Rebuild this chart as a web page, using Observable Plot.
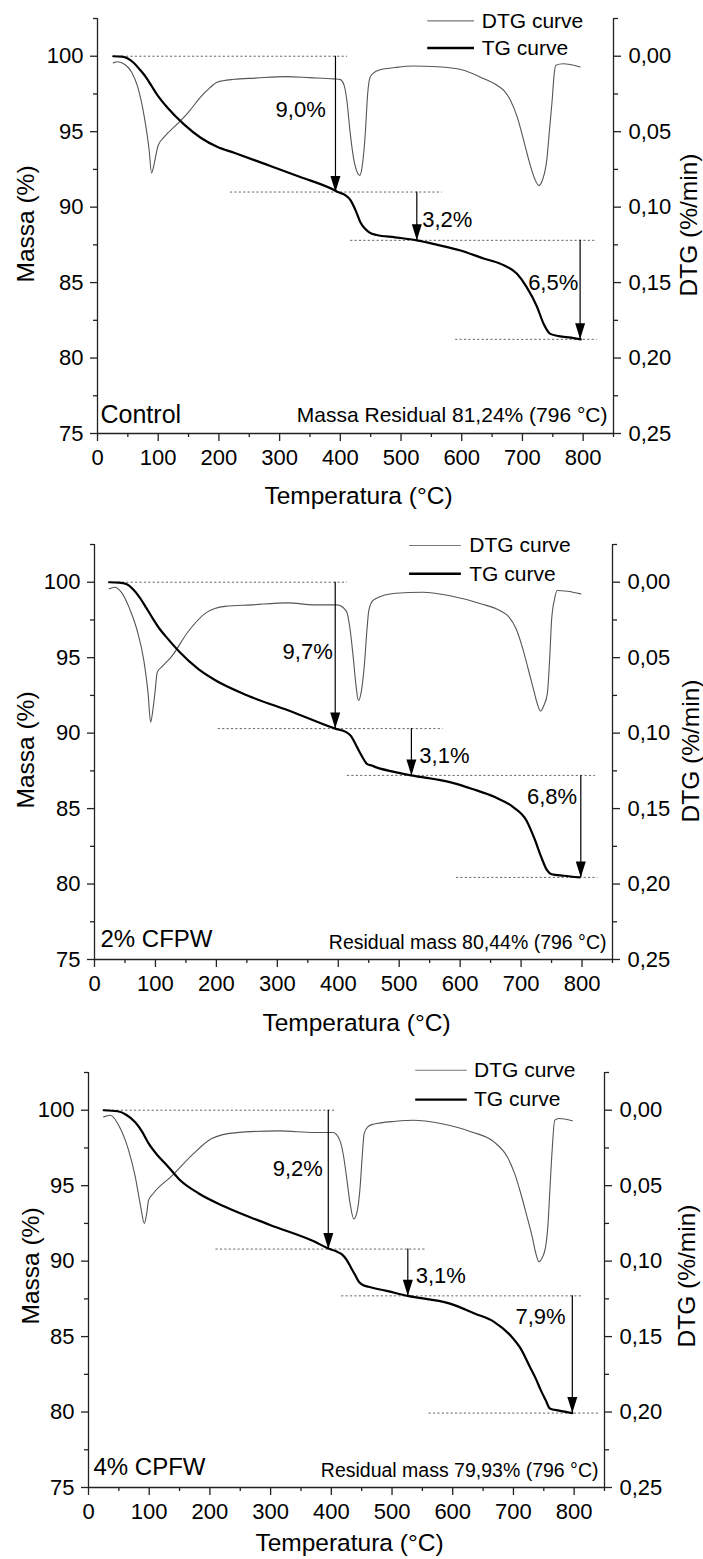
<!DOCTYPE html>
<html><head><meta charset="utf-8">
<script src="https://cdn.jsdelivr.net/npm/d3@7"></script>
<script src="https://cdn.jsdelivr.net/npm/@observablehq/plot@0.6"></script>
<style>
body{margin:0;background:#fff;}
#wrap{position:relative;width:703px;height:1559px;overflow:hidden;background:#fff;}
.panel{position:absolute;left:0;}
.panel svg{overflow:visible;}
</style></head><body><div id="wrap"></div>
<script>
// ---------- DATA ----------
const panelNames = ["Control", "2% CFPW", "4% CPFW"];
const residualTexts = ["Massa Residual 81,24% (796 °C)", "Residual mass 80,44% (796 °C)", "Residual mass 79,93% (796 °C)"];
const legendNames = ["DTG curve", "TG curve"];
const xTitle = "Temperatura (°C)";
const yTitle = "Massa (%)";
const y2Title = "DTG (%/min)";

const xMajorTicks = [0, 100, 200, 300, 400, 500, 600, 700, 800];
const xMinorTicks = [50, 150, 250, 350, 450, 550, 650, 750, 850];
const massTicks = [75, 80, 85, 90, 95, 100];
const massMinorTicks = [77.5, 82.5, 87.5, 92.5, 97.5, 102.5];
const dtgTicks = [0, 0.05, 0.10, 0.15, 0.20, 0.25];
const dtgMinorTicks = [-0.025, 0.025, 0.075, 0.125, 0.175, 0.225];

// Control
const controlTgT = [26,40,50,60,70,80,88,99,115,142,170,197,225,280,334,389,396,408,417,425,433,440,447,460,490,526,560,598,636,664,691,707,724,735,746,760,780,796];
const controlTgMass = [100,99.97,99.85,99.55,99.1,98.6,98.1,97.4,96.6,95.5,94.6,94.0,93.6,92.8,92.0,91.15,91.0,90.8,90.45,89.8,89.0,88.6,88.35,88.15,88.0,87.8,87.5,87.13,86.6,86.24,85.58,84.7,83.4,82.26,81.6,81.45,81.35,81.24];
const controlDtgT = [26,33,45,56,66,77,85,89,93,97,100,110,132,150,170,185,197,225,260,310,350,389,400,406,411,416,422,428,432,436,441,445,449,455,465,490,520,560,600,636,658,670,680,692,702,712,720,727,733,740,745,749,752,755,767,795];
const controlDtgRate = [0.0044,0.0037,0.0055,0.0104,0.020,0.040,0.062,0.0774,0.072,0.064,0.059,0.0535,0.0447,0.037,0.027,0.021,0.0172,0.0153,0.0145,0.0135,0.0142,0.015,0.0155,0.019,0.030,0.050,0.068,0.077,0.079,0.073,0.052,0.025,0.014,0.011,0.009,0.0075,0.0065,0.0070,0.0090,0.0148,0.0192,0.023,0.029,0.041,0.0557,0.071,0.081,0.0856,0.082,0.069,0.047,0.029,0.013,0.006,0.005,0.0071];
const controlStepT = [392, 526, 795];
const controlStepLevels = [100, 91.0, 87.8, 81.24];
const controlStepLabels = ["9,0%", "3,2%", "6,5%"];

// 2% CFPW
const cfpw2TgT = [24,40,52,64,74,85,96,107,118,140,170,199,251,325,395,413,421,428,437,447,455,465,490,520,583,620,657,687,709,722,733,742,750,770,796];
const cfpw2TgMass = [100,99.97,99.88,99.5,99.0,98.3,97.57,96.9,96.36,95.36,94.26,93.49,92.5,91.4,90.3,90.07,89.8,89.3,88.6,87.97,87.85,87.7,87.45,87.2,86.75,86.3,85.76,85.1,84.2,83.0,81.8,80.95,80.65,80.55,80.44];
const cfpw2DtgT = [24,33,44,59,70,81,88,92,96,99,103,110,125,155,184,214,258,317,361,398,413,419,424,429,433,438,443,447,450,455,461,494,539,583,635,665,680,692,702,712,721,727,732,737,743,747,750,755,759,776,798];
const cfpw2DtgRate = [0.0044,0.0033,0.0066,0.019,0.032,0.052,0.074,0.0927,0.084,0.074,0.0596,0.0563,0.050,0.032,0.020,0.016,0.015,0.0137,0.015,0.015,0.019,0.030,0.0475,0.068,0.0784,0.072,0.054,0.032,0.019,0.013,0.011,0.0073,0.0066,0.009,0.0144,0.0188,0.023,0.031,0.043,0.058,0.072,0.081,0.0854,0.082,0.074,0.050,0.0254,0.011,0.0055,0.006,0.0077];
const cfpw2StepT = [395, 520, 798];
const cfpw2StepLevels = [100, 90.3, 87.2, 80.44];
const cfpw2StepLabels = ["9,7%", "3,1%", "6,8%"];

// 4% CPFW
const cpfw4TgT = [25,48,62,77,88,99,114,129,151,181,225,299,373,395,408,417,425,432,439,446,453,461,491,526,594,638,668,697,712,727,737,745,753,760,775,797];
const cpfw4TgMass = [100,99.93,99.7,99.2,98.6,97.8,97.0,96.36,95.36,94.5,93.6,92.4,91.28,90.84,90.65,90.46,90.1,89.6,89.1,88.6,88.4,88.3,88.03,87.7,87.2,86.5,85.98,84.99,84.2,83.0,82.2,81.45,80.8,80.24,80.09,79.93];
const cpfw4DtgT = [25,36,51,66,77,86,92,96,99,107,136,173,203,240,314,373,403,414,420,425,431,437,442,447,451,454,460,469,506,535,580,631,668,690,702,712,722,731,737,742,747,753,757,760,764,768,775,797];
const cpfw4DtgRate = [0.0044,0.0033,0.011,0.0265,0.044,0.064,0.075,0.068,0.0596,0.055,0.044,0.0287,0.0188,0.015,0.0137,0.0148,0.0148,0.020,0.030,0.044,0.062,0.072,0.068,0.053,0.030,0.0155,0.011,0.0093,0.0073,0.0066,0.0088,0.0144,0.021,0.031,0.042,0.055,0.070,0.084,0.095,0.1004,0.098,0.0905,0.075,0.053,0.025,0.0066,0.0055,0.007];
const cpfw4StepT = [395, 526, 797];
const cpfw4StepLevels = [100, 90.8, 87.7, 79.93];
const cpfw4StepLabels = ["9,2%", "3,1%", "7,9%"];

// ---------- ASSEMBLY ----------
const panels = [
  {tgT: controlTgT, tgMass: controlTgMass, dtgT: controlDtgT, dtgRate: controlDtgRate, stepT: controlStepT, levels: controlStepLevels, labels: controlStepLabels},
  {tgT: cfpw2TgT, tgMass: cfpw2TgMass, dtgT: cfpw2DtgT, dtgRate: cfpw2DtgRate, stepT: cfpw2StepT, levels: cfpw2StepLevels, labels: cfpw2StepLabels},
  {tgT: cpfw4TgT, tgMass: cpfw4TgMass, dtgT: cpfw4DtgT, dtgRate: cpfw4DtgRate, stepT: cpfw4StepT, levels: cpfw4StepLevels, labels: cpfw4StepLabels}
];

// layout (pixel / placement settings, not data)
const layout = [
  {top: 0, ml: 97, mr: 90,
   guideX: [[26,412],[219,568],[417,823],[590,823]],
   labelPos: [[376,96.42,"end"],[535,89.12,"start"],[792,85.0,"end"]],
   legend: {x1: 544, x2: 621, tx: 633, yD: 102.34, yT: 100.55, size: 21},
   nameDx: 3, nameDy: -11, nameSize: 25, resDx: -6, resDy: -11.5, resSize: 21,
   xtDy: 70, ytDx: -64, ytDy: -2, y2tDx: 83, y2tDy: -1},
  {top: 526, ml: 94, mr: 91,
   guideX: [[24,415],[203,572],[415,822],[594,826]],
   labelPos: [[391,95.36,"end"],[533,88.52,"start"],[792,85.76,"end"]],
   legend: {x1: 517, x2: 602, tx: 615, yD: 102.43, yT: 100.56, size: 21},
   nameDx: 6, nameDy: -13, nameSize: 24, resDx: -6, resDy: -11, resSize: 19.5,
   xtDy: 71, ytDx: -61, ytDy: -2, y2tDx: 86, y2tDy: -1},
  {top: 1054, ml: 88, mr: 99,
   guideX: [[25,407],[210,557],[417,812],[561,841]],
   labelPos: [[386,96.14,"end"],[539,89.0,"start"],[786,86.3,"end"]],
   legend: {x1: 539, x2: 624, tx: 635, yD: 102.65, yT: 100.7, size: 21},
   nameDx: 5, nameDy: -13, nameSize: 24, resDx: -6, resDy: -11, resSize: 19.5,
   xtDy: 63, ytDx: -50, ytDy: -14, y2tDx: 90, y2tDy: -4}
];

const FONT = '"Liberation Sans", Arial, Helvetica, sans-serif';
const AXIS = "#222";
const DTG_COLOR = "#555";
const TICK_FS = 22;
const rateToMass = r => 100 - 100 * r;
const fmtComma = (v, d) => v.toFixed(d).replace(".", ",");

// downward filled arrowhead, tip at the anchor point
const arrowHead = {draw(ctx) { ctx.moveTo(0, 0); ctx.lineTo(-5, -16); ctx.lineTo(5, -16); ctx.closePath(); }};

const PLOT_H = 526, MT = 18, MB = 93;

panels.forEach((p, i) => {
  const L = layout[i];
  const tg = p.tgT.map((t, k) => ({t, m: p.tgMass[k]}));
  const dtg = p.dtgT.map((t, k) => ({t, r: p.dtgRate[k]}));
  const steps = p.stepT.map((t, k) => ({t, from: p.levels[k], to: p.levels[k + 1], label: p.labels[k],
    lx: L.labelPos[k][0], ly: L.labelPos[k][1], anchor: L.labelPos[k][2]}));
  const guides = L.guideX.map((g, k) => ({level: p.levels[k], x1: g[0], x2: g[1]}));
  const lg = L.legend;

  const chart = Plot.plot({
    width: 703, height: PLOT_H,
    marginTop: MT, marginBottom: MB, marginLeft: L.ml, marginRight: L.mr,
    x: {domain: [0, 850], axis: null},
    y: {domain: [75, 102.5], axis: null},
    style: {fontFamily: FONT, fontSize: "22px", color: "#000", background: "white", overflow: "visible"},
    marks: [
      // axis lines
      Plot.ruleX([0], {stroke: AXIS, strokeWidth: 1.3}),
      Plot.ruleX([850], {stroke: AXIS, strokeWidth: 1.3}),
      Plot.ruleY([75], {stroke: AXIS, strokeWidth: 1.3}),
      // x axis ticks + labels
      Plot.axisX(xMajorTicks, {anchor: "bottom", tickSize: 8, stroke: AXIS, strokeWidth: 1.3, tickFormat: () => "", label: null}),
      Plot.axisX(xMinorTicks, {anchor: "bottom", tickSize: 4, stroke: AXIS, strokeWidth: 1.3, tickFormat: () => "", label: null}),
      Plot.text(xMajorTicks, {x: d => d, frameAnchor: "bottom", text: d => `${d}`, lineAnchor: "top", textAnchor: "middle", dy: 16, fontSize: TICK_FS, fill: "#000"}),
      // left axis
      Plot.axisY(massTicks, {anchor: "left", tickSize: 7, stroke: AXIS, strokeWidth: 1.3, tickFormat: () => "", label: null}),
      Plot.axisY(massMinorTicks, {anchor: "left", tickSize: 4, stroke: AXIS, strokeWidth: 1.3, tickFormat: () => "", label: null}),
      Plot.text(massTicks, {y: d => d, frameAnchor: "left", text: d => `${d}`, textAnchor: "end", dx: -14, fontSize: TICK_FS, fill: "#000"}),
      // right axis (DTG)
      Plot.axisY(dtgTicks.map(rateToMass), {anchor: "right", tickSize: 7, stroke: AXIS, strokeWidth: 1.3, tickFormat: () => "", label: null}),
      Plot.axisY(dtgMinorTicks.map(rateToMass), {anchor: "right", tickSize: 4, stroke: AXIS, strokeWidth: 1.3, tickFormat: () => "", label: null}),
      Plot.text(dtgTicks, {y: d => rateToMass(d), frameAnchor: "right", text: d => fmtComma(d, 2), textAnchor: "start", dx: 15, fontSize: TICK_FS, fill: "#000"}),
      // dotted guide lines
      Plot.ruleY(guides, {y: "level", x1: "x1", x2: "x2", stroke: "#666", strokeWidth: 1, strokeDasharray: "2.2,2.2"}),
      // curves
      Plot.line(dtg, {x: "t", y: d => rateToMass(d.r), stroke: DTG_COLOR, strokeWidth: 1.1, curve: "monotone-x"}),
      Plot.line(tg, {x: "t", y: "m", stroke: "#000", strokeWidth: 2.2, curve: "monotone-x"}),
      // arrows
      Plot.ruleX(steps, {x: "t", y1: "from", y2: "to", stroke: "#000", strokeWidth: 1.2}),
      Plot.dot(steps, {x: "t", y: "to", symbol: arrowHead, fill: "#000", stroke: "none", r: 5}),
      Plot.text(steps, {filter: d => d.anchor === "end", x: "lx", y: "ly", text: "label", textAnchor: "end", fontSize: 22, fill: "#000"}),
      Plot.text(steps, {filter: d => d.anchor === "start", x: "lx", y: "ly", text: "label", textAnchor: "start", fontSize: 22, fill: "#000"}),
      // legend
      Plot.ruleY([lg.yD], {x1: lg.x1, x2: lg.x2, stroke: "#777", strokeWidth: 1.1}),
      Plot.ruleY([lg.yT], {x1: lg.x1, x2: lg.x2, stroke: "#000", strokeWidth: 2.4}),
      Plot.text([{n: legendNames[0], y: lg.yD}, {n: legendNames[1], y: lg.yT}], {x: lg.tx, y: "y", text: "n", textAnchor: "start", fontSize: lg.size, fill: "#000"}),
      // panel name and residual mass
      Plot.text([panelNames[i]], {frameAnchor: "bottom-left", text: d => d, textAnchor: "start", lineAnchor: "bottom", dx: L.nameDx, dy: L.nameDy, fontSize: L.nameSize, fill: "#000"}),
      Plot.text([residualTexts[i]], {frameAnchor: "bottom-right", text: d => d, textAnchor: "end", lineAnchor: "bottom", dx: L.resDx, dy: L.resDy, fontSize: L.resSize, fill: "#000"}),
      // axis titles
      Plot.text([xTitle], {frameAnchor: "bottom", text: d => d, textAnchor: "middle", lineAnchor: "bottom", dx: 3, dy: L.xtDy, fontSize: 24.5, fill: "#000"}),
      Plot.text([yTitle], {frameAnchor: "left", text: d => d, textAnchor: "middle", lineAnchor: "bottom", rotate: -90, dx: L.ytDx, dy: L.ytDy, fontSize: 24.5, fill: "#000"}),
      Plot.text([y2Title], {frameAnchor: "right", text: d => d, textAnchor: "middle", lineAnchor: "bottom", rotate: -90, dx: L.y2tDx, dy: L.y2tDy, fontSize: 24.5, fill: "#000"})
    ]
  });
  const div = document.createElement("div");
  div.className = "panel";
  div.style.top = L.top + "px";
  div.appendChild(chart);
  document.getElementById("wrap").appendChild(div);
});
</script></body></html>
